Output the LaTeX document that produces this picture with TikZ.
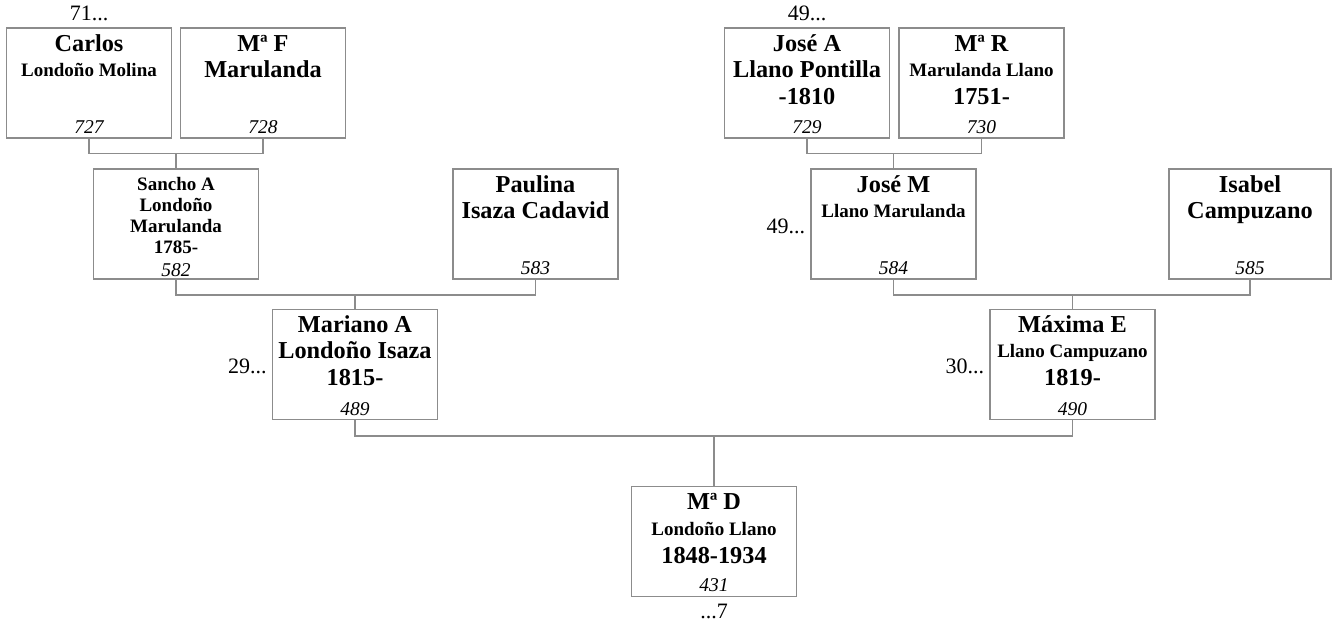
\documentclass[tikz,border=0pt]{standalone}
\usepackage{fontspec}
\setmainfont{Liberation Serif}
\usetikzlibrary{calc}
\definecolor{edge}{RGB}{140,140,140}
\tikzset{
 person/.style={draw=edge,line width=1.2pt,minimum width=165pt,minimum height=110pt,inner sep=0pt},
 bigline/.style={anchor=base,inner sep=0pt,font=\fontsize{24.3}{26}\selectfont\bfseries},
 smallline/.style={anchor=base,inner sep=0pt,font=\fontsize{19}{23}\selectfont\bfseries},
 numline/.style={anchor=base,inner sep=0pt,font=\fontsize{19.5}{23}\selectfont\itshape},
 genlabel/.style={inner sep=0pt,font=\fontsize{22}{24}\selectfont},
 conn/.style={draw=edge,line width=1.2pt}
}
\begin{document}
\begin{tikzpicture}[x=1pt,y=-1pt]
\useasboundingbox (0,0) rectangle (1332,625);
% boxes
\node[person] (carlos) at (89,83) {};
\node[person] (mf) at (263,83) {};
\node[person] (josea) at (807,83) {};
\node[person] (mr) at (981.5,83) {};
\node[person] (sancho) at (176,224) {};
\node[person] (paulina) at (535.5,224) {};
\node[person] (josem) at (893.5,224) {};
\node[person,minimum width=162pt] (isabel) at (1250,224) {};
\node[person] (mariano) at (355,364.5) {};
\node[person] (maxima) at (1072.5,364.5) {};
\node[person] (mad) at (714,541.5) {};
% bar levels
\coordinate (bar1) at (0,153.5);
\coordinate (bar2) at (0,295);
\coordinate (bar3) at (0,436);
% connectors
\draw[conn] (carlos.south) |- (carlos.south |- bar1) -| (mf.south);
\draw[conn] (sancho.north) -- (sancho.north |- bar1);
\draw[conn] (josea.south) |- (josea.south |- bar1) -| (mr.south);
\draw[conn] (josem.north) -- (josem.north |- bar1);
\draw[conn] (sancho.south) |- (sancho.south |- bar2) -| (paulina.south);
\draw[conn] (mariano.north) -- (mariano.north |- bar2);
\draw[conn] (josem.south) |- (josem.south |- bar2) -| (isabel.south);
\draw[conn] (maxima.north) -- (maxima.north |- bar2);
\draw[conn] (mariano.south) |- (mariano.south |- bar3) -| (maxima.south);
\draw[conn] (mad.north) -- (mad.north |- bar3);
% texts row 1
\node[bigline] (carlos1) at ($(carlos.north)+(0,24)$) {Carlos};
\node[smallline] (carlos2) at ($(carlos.north)+(0,49)$) {Londoño Molina};
\node[numline] (carlosn) at ($(carlos.south)+(0,-5)$) {727};
\node[bigline] (mf1) at ($(mf.north)+(0,24)$) {Mª F};
\node[bigline] (mf2) at ($(mf.north)+(0,50)$) {Marulanda};
\node[numline] (mfn) at ($(mf.south)+(0,-5)$) {728};
\node[bigline] (josea1) at ($(josea.north)+(0,24)$) {José A};
\node[bigline] (josea2) at ($(josea.north)+(0,50)$) {Llano Pontilla};
\node[bigline] (josea3) at ($(josea.north)+(0,77)$) {-1810};
\node[numline] (josean) at ($(josea.south)+(0,-5)$) {729};
\node[bigline] (mr1) at ($(mr.north)+(0,24)$) {Mª R};
\node[smallline] (mr2) at ($(mr.north)+(0,49)$) {Marulanda Llano};
\node[bigline] (mr3) at ($(mr.north)+(0,77)$) {1751-};
\node[numline] (mrn) at ($(mr.south)+(0,-5)$) {730};
% row 2
\node[smallline] (sancho1) at ($(sancho.north)+(0,22)$) {Sancho A};
\node[smallline] (sancho2) at ($(sancho.north)+(0,43)$) {Londoño};
\node[smallline] (sancho3) at ($(sancho.north)+(0,64)$) {Marulanda};
\node[smallline] (sancho4) at ($(sancho.north)+(0,85.5)$) {1785-};
\node[numline] (sanchon) at ($(sancho.south)+(0,-3)$) {582};
\node[bigline] (paulina1) at ($(paulina.north)+(0,24)$) {Paulina};
\node[bigline] (paulina2) at ($(paulina.north)+(0,50)$) {Isaza Cadavid};
\node[numline] (paulinan) at ($(paulina.south)+(0,-5)$) {583};
\node[bigline] (josem1) at ($(josem.north)+(0,24)$) {José M};
\node[smallline] (josem2) at ($(josem.north)+(0,49)$) {Llano Marulanda};
\node[numline] (josemn) at ($(josem.south)+(0,-5)$) {584};
\node[bigline] (isabel1) at ($(isabel.north)+(0,24)$) {Isabel};
\node[bigline] (isabel2) at ($(isabel.north)+(0,50)$) {Campuzano};
\node[numline] (isabeln) at ($(isabel.south)+(0,-5)$) {585};
% row 3
\node[bigline] (mariano1) at ($(mariano.north)+(0,24)$) {Mariano A};
\node[bigline] (mariano2) at ($(mariano.north)+(0,50)$) {Londoño Isaza};
\node[bigline] (mariano3) at ($(mariano.north)+(0,77)$) {1815-};
\node[numline] (marianon) at ($(mariano.south)+(0,-5)$) {489};
\node[bigline] (maxima1) at ($(maxima.north)+(0,24)$) {Máxima E};
\node[smallline] (maxima2) at ($(maxima.north)+(0,49)$) {Llano Campuzano};
\node[bigline] (maxima3) at ($(maxima.north)+(0,77)$) {1819-};
\node[numline] (maximan) at ($(maxima.south)+(0,-5)$) {490};
% row 4
\node[bigline] (mad1) at ($(mad.north)+(0,23.5)$) {Mª D};
\node[smallline] (mad2) at ($(mad.north)+(0,50)$) {Londoño Llano};
\node[bigline] (mad3) at ($(mad.north)+(0,78)$) {1848-1934};
\node[numline] (madn) at ($(mad.south)+(0,-6)$) {431};
% generation labels
\node[genlabel,anchor=base] (g71) at ($(carlos.north)+(0,-6.5)$) {71...};
\node[genlabel,anchor=base] (g49a) at ($(josea.north)+(0,-6.5)$) {49...};
\node[genlabel,anchor=base east] (g49b) at ($(josem.west)+(-5,9)$) {49...};
\node[genlabel,anchor=base east] (g29) at ($(mariano.west)+(-5,9)$) {29...};
\node[genlabel,anchor=base east] (g30) at ($(maxima.west)+(-5,9)$) {30...};
\node[genlabel,anchor=base] (g7) at ($(mad.south)+(0,21)$) {...7};
\end{tikzpicture}
\end{document}
